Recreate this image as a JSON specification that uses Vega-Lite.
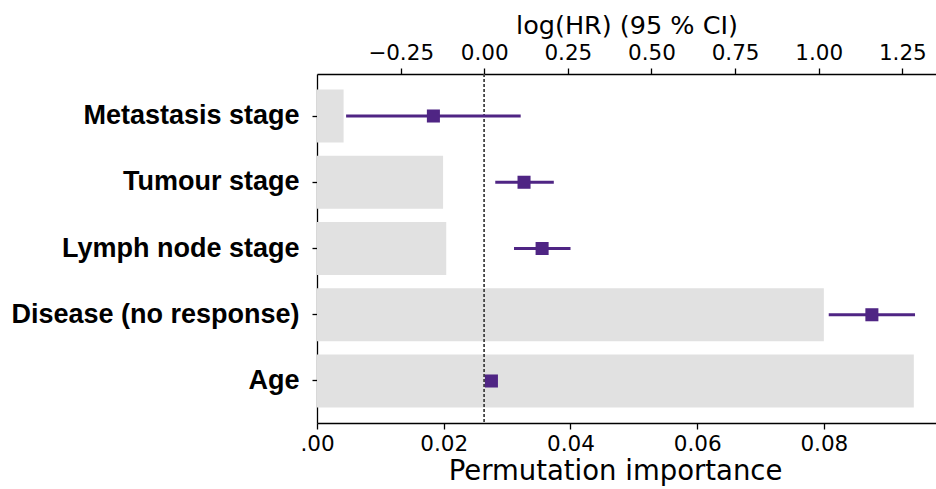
{
  "$schema": "https://vega.github.io/schema/vega-lite/v6.json",
  "autosize": {"type": "none"},
  "padding": {"left": 317, "top": 74, "right": 0, "bottom": 66},
  "width": 619,
  "height": 349,
  "config": {
    "view": {"stroke": null},
    "axis": {
      "domainColor": "#000000",
      "domainWidth": 1.3,
      "tickColor": "#000000",
      "tickWidth": 1.3,
      "tickSize": 6,
      "grid": false,
      "labelFlush": false,
      "labelFont": "DejaVu Sans",
      "labelFontSize": 21.5,
      "labelColor": "#000000",
      "titleFont": "DejaVu Sans",
      "titleFontSize": 25.5,
      "titleFontWeight": "normal",
      "titleColor": "#000000"
    }
  },
  "data": {
    "values": [
      {"feature": "Metastasis stage", "importance": 0.0042, "est": -0.152, "lo": -0.413, "hi": 0.109},
      {"feature": "Tumour stage", "importance": 0.0199, "est": 0.119, "lo": 0.033, "hi": 0.208},
      {"feature": "Lymph node stage", "importance": 0.0204, "est": 0.173, "lo": 0.089, "hi": 0.258},
      {"feature": "Disease (no response)", "importance": 0.0800, "est": 1.159, "lo": 1.030, "hi": 1.288},
      {"feature": "Age", "importance": 0.0942, "est": 0.0215, "lo": 0.017, "hi": 0.026}
    ]
  },
  "encoding": {
    "y": {
      "field": "feature",
      "type": "nominal",
      "sort": ["Metastasis stage", "Tumour stage", "Lymph node stage", "Disease (no response)", "Age"],
      "scale": {"paddingInner": 0.2, "paddingOuter": 0.234},
      "axis": {
        "title": null,
        "labelFont": "Liberation Sans",
        "labelFontWeight": "bold",
        "labelFontSize": 27,
        "labelLimit": 0,
        "labelPadding": 13,
        "tickSize": 5
      }
    }
  },
  "layer": [
    {
      "mark": {"type": "bar", "color": "#e1e1e1"},
      "encoding": {
        "x": {
          "field": "importance",
          "type": "quantitative",
          "scale": {"domain": [0, 0.0977], "nice": false, "zero": false},
          "axis": {
            "orient": "bottom",
            "title": "Permutation importance",
            "titleFontSize": 27.5,
            "titleX": 298,
            "titleAlign": "center",
            "values": [0, 0.02, 0.04, 0.06, 0.08],
            "format": ".2f",
            "labelExpr": "datum.value == 0 ? '.00' : datum.label",
            "labelPadding": 4,
            "titlePadding": 3
          }
        }
      }
    },
    {
      "layer": [
        {
          "mark": {"type": "rule", "color": "#444444", "strokeDash": [3, 2], "strokeWidth": 1},
          "encoding": {
            "x": {"datum": 0, "type": "quantitative"},
            "y": null
          }
        },
        {
          "mark": {"type": "rule", "color": "#4f2584", "strokeWidth": 3},
          "encoding": {
            "x": {
              "field": "lo",
              "type": "quantitative",
              "scale": {"domain": [-0.5, 1.3507], "nice": false, "zero": false},
              "axis": {
                "orient": "top",
                "title": "log(HR) (95 % CI)",
                "values": [-0.25, 0, 0.25, 0.5, 0.75, 1, 1.25],
                "format": ".2f",
                "labelPadding": 4,
                "titlePadding": 4
              }
            },
            "x2": {"field": "hi"}
          }
        },
        {
          "mark": {"type": "point", "shape": "square", "filled": true, "opacity": 1, "color": "#4f2584", "size": 170},
          "encoding": {
            "x": {"field": "est", "type": "quantitative"}
          }
        }
      ]
    }
  ],
  "resolve": {"scale": {"x": "independent"}, "axis": {"x": "independent"}}
}
